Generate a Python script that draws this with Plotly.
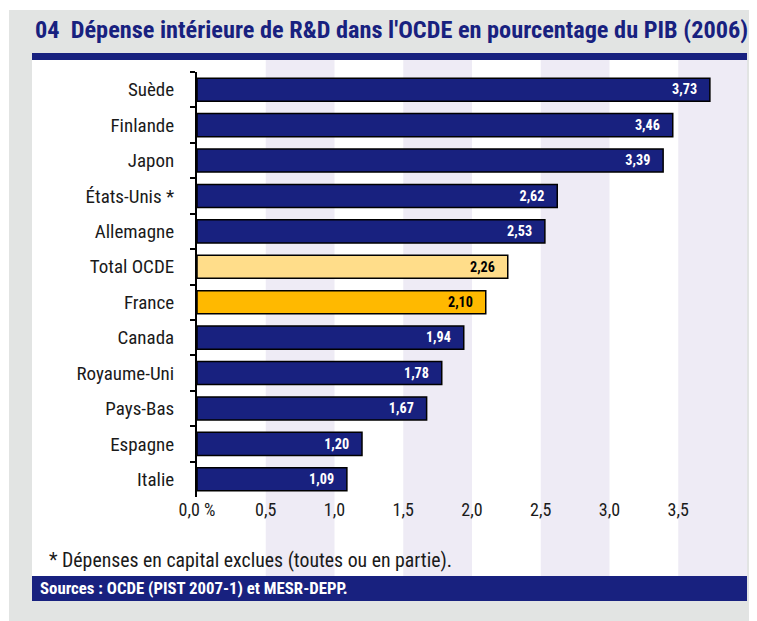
import plotly.graph_objects as go

countries = ["Suède", "Finlande", "Japon", "États-Unis *", "Allemagne", "Total OCDE",
             "France", "Canada", "Royaume-Uni", "Pays-Bas", "Espagne", "Italie"]
values = [3.73, 3.46, 3.39, 2.62, 2.53, 2.26, 2.10, 1.94, 1.78, 1.67, 1.20, 1.09]
tick_vals = [0, 0.5, 1.0, 1.5, 2.0, 2.5, 3.0, 3.5]
tick_text = ["0,0 %", "0,5", "1,0", "1,5", "2,0", "2,5", "3,0", "3,5"]
bands = [(0.5, 1.0), (1.5, 2.0), (2.5, 3.0), (3.5, 4.0)]

NAVY = "#18217f"
FONT = "Roboto Condensed, Liberation Sans Narrow, Liberation Sans, Arial, sans-serif"

colors = []
txtcolors = []
for c in countries:
    if c == "Total OCDE":
        colors.append("#ffdd8a"); txtcolors.append("black")
    elif c == "France":
        colors.append("#ffb900"); txtcolors.append("black")
    else:
        colors.append(NAVY); txtcolors.append("white")

labels = [f"{v:.2f}".replace(".", ",") + "\u00a0\u00a0\u00a0" for v in values]

fig = go.Figure(go.Bar(
    x=values, y=countries, orientation="h",
    marker=dict(color=colors, line=dict(color="black", width=1.5)),
    text=labels, textposition="inside", insidetextanchor="end", textangle=0,
    textfont=dict(family=FONT, size=15, color=txtcolors, weight="bold"),
    cliponaxis=False, hoverinfo="skip",
))

OFF = 8  # default body margin of the html page
W, H = 757 - OFF, 621 - OFF
L, R, T, B = 197 - OFF, 10, 72 - OFF, 124
PW, PH = W - L - R, H - T - B

def py(p):  # page pixel y -> paper y
    return 1 - (p - OFF - T) / PH

def px(p):
    return (p - OFF - L) / PW

shapes = [
    dict(type="rect", xref="paper", yref="paper", x0=px(9), x1=px(760), y0=py(10), y1=py(625),
         fillcolor="#e2e4e3", line_width=0, layer="below"),
    dict(type="rect", xref="paper", yref="paper", x0=px(32), x1=px(747), y0=py(60), y1=py(601),
         fillcolor="white", line_width=0, layer="below"),
]
for a, b in bands:
    shapes.append(dict(type="rect", xref="x", yref="paper", x0=a, x1=b, y0=py(576), y1=py(60),
                       fillcolor="#eeebf5", line_width=0, layer="below"))
shapes.append(dict(type="rect", xref="paper", yref="paper", x0=px(32), x1=px(747), y0=py(60), y1=py(53),
                   fillcolor=NAVY, line_width=0, layer="below"))
shapes.append(dict(type="rect", xref="paper", yref="paper", x0=px(32), x1=px(747), y0=py(601), y1=py(576),
                   fillcolor=NAVY, line_width=0, layer="below"))

annotations = [
    dict(text="04  Dépense intérieure de R&D dans l'OCDE en pourcentage du PIB (2006)",
         xref="paper", yref="paper", x=px(33), y=py(30), xanchor="left", yanchor="middle",
         showarrow=False, font=dict(family=FONT, size=24.3, color=NAVY, weight="bold")),
    dict(text="* Dépenses en capital exclues (toutes ou en partie).",
         xref="paper", yref="paper", x=px(47), y=py(560), xanchor="left", yanchor="middle",
         showarrow=False, font=dict(family=FONT, size=19.8, color="#1a1a1a")),
    dict(text="Sources : OCDE (PIST 2007-1) et MESR-DEPP.",
         xref="paper", yref="paper", x=px(38), y=py(588), xanchor="left", yanchor="middle",
         showarrow=False, font=dict(family=FONT, size=16.8, color="white", weight="bold")),
]

fig.update_layout(
    width=W, height=H, margin=dict(l=L, r=R, t=T, b=B, pad=0),
    paper_bgcolor="white", plot_bgcolor="rgba(0,0,0,0)",
    bargap=0.35, showlegend=False,
    shapes=shapes, annotations=annotations,
    font=dict(family=FONT, color="#1a1a1a"),
    xaxis=dict(range=[0, 4.0], tickvals=tick_vals, ticktext=tick_text, showgrid=False,
               zeroline=False, showline=False, ticks="", tickfont=dict(size=18, color="#1a1a1a"),
               fixedrange=True),
    yaxis=dict(autorange="reversed", showline=True, linecolor="black", linewidth=2,
               ticks="outside", tickson="boundaries", ticklen=5, tickwidth=2, tickcolor="black",
               showgrid=False, tickfont=dict(size=19, color="#1a1a1a"), ticklabelstandoff=17,
               fixedrange=True),
)

fig.write_html("out.html")
